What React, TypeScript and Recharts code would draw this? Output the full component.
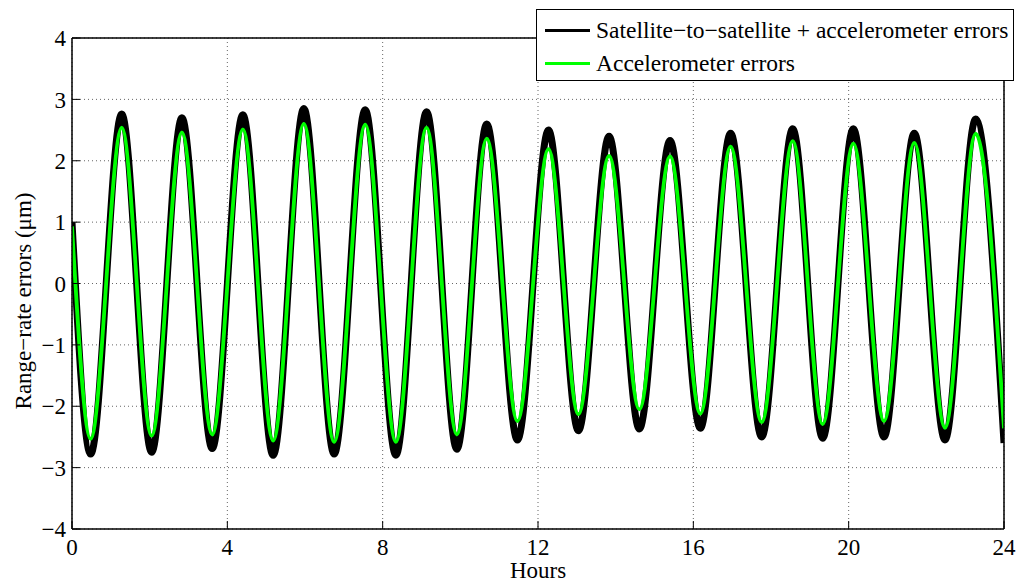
import React from 'react';
import { LineChart, Line, XAxis, YAxis, CartesianGrid, Legend } from 'recharts';

// extrema of the orbital signal (hours)
const hours = [
  0, 0.48, 1.28, 2.05, 2.83, 3.61, 4.4, 5.18, 5.97, 6.75, 7.55, 8.34, 9.13, 9.91, 10.68, 11.47,
  12.27, 13.04, 13.83, 14.61, 15.4, 16.18, 16.96, 17.76, 18.56, 19.33, 20.12, 20.91, 21.69, 22.48, 23.27, 24,
];
// accelerometer errors (green)
const accelErrors = [
  0.93, -2.53, 2.54, -2.48, 2.46, -2.46, 2.51, -2.56, 2.6, -2.58, 2.59, -2.58, 2.54, -2.46, 2.36, -2.24,
  2.19, -2.13, 2.08, -2.05, 2.07, -2.12, 2.23, -2.26, 2.32, -2.29, 2.28, -2.24, 2.29, -2.35, 2.44, -2.36,
];
// satellite-to-satellite + accelerometer errors (black, centre of the noisy band)
const sstErrors = [
  1.0, -2.78, 2.76, -2.75, 2.7, -2.69, 2.75, -2.8, 2.85, -2.78, 2.83, -2.8, 2.8, -2.7, 2.6, -2.55,
  2.5, -2.4, 2.4, -2.37, 2.33, -2.36, 2.45, -2.5, 2.52, -2.52, 2.52, -2.5, 2.45, -2.55, 2.68, -2.6,
];

const xTicks = [0, 4, 8, 12, 16, 20, 24];
const yTicks = [-4, -3, -2, -1, 0, 1, 2, 3, 4];

const data = hours.map((h, i) => ({ h, acc: accelErrors[i], sst: sstErrors[i] }));

const FONT = "'Liberation Serif', 'Times New Roman', serif";
const FS = 23;
const fmt = (v: number) => (v < 0 ? `\u2212${Math.abs(v)}` : `${v}`);

const LegendBox = () => (
  <div
    style={{
      border: '1.5px solid #000',
      background: '#fff',
      fontFamily: FONT,
      fontSize: 23.5,
      color: '#000',
      padding: '4px 5px 0px 8px',
      lineHeight: '33px',
      whiteSpace: 'nowrap',
    }}
  >
    <div style={{ display: 'flex', alignItems: 'center' }}>
      <span style={{ display: 'inline-block', width: 45, height: 3, background: '#000', marginRight: 6 }} />
      Satellite{'\u2212'}to{'\u2212'}satellite + accelerometer errors
    </div>
    <div style={{ display: 'flex', alignItems: 'center' }}>
      <span style={{ display: 'inline-block', width: 45, height: 3, background: '#00ff00', marginRight: 6 }} />
      Accelerometer errors
    </div>
  </div>
);

export default function App() {
  return (
    <div style={{ position: 'absolute', left: 0, top: 0, width: 1020, height: 584, background: '#fff' }}>
      <LineChart width={1020} height={584} data={data} margin={{ top: 0, right: 0, bottom: 0, left: 0 }}>
        <CartesianGrid
          stroke="#666"
          strokeDasharray="1 3"
          strokeWidth={1}
          verticalValues={xTicks}
          horizontalValues={yTicks}
        />
        <XAxis
          dataKey="h"
          type="number"
          domain={[0, 24]}
          ticks={xTicks}
          allowDataOverflow
          height={55}
          tickSize={-8}
          tickMargin={18}
          axisLine={{ stroke: '#000', strokeWidth: 1.5 }}
          tickLine={{ stroke: '#000' }}
          tick={{ fill: '#000', fontSize: FS, fontFamily: FONT }}
          label={{
            content: ({ viewBox }: any) => (
              <text
                x={viewBox.x + viewBox.width / 2}
                y={578}
                textAnchor="middle"
                fontFamily={FONT}
                fontSize={FS}
                fill="#000"
              >
                Hours
              </text>
            ),
          }}
        />
        <XAxis
          xAxisId="top"
          orientation="top"
          dataKey="h"
          type="number"
          domain={[0, 24]}
          ticks={xTicks}
          allowDataOverflow
          height={38}
          tickSize={-8}
          tick={false}
          axisLine={{ stroke: '#000', strokeWidth: 1.5 }}
          tickLine={{ stroke: '#000' }}
        />
        <YAxis
          type="number"
          domain={[-4, 4]}
          ticks={yTicks}
          allowDataOverflow
          width={72}
          tickSize={-8}
          tickMargin={14}
          tickFormatter={fmt}
          axisLine={{ stroke: '#000', strokeWidth: 1.5 }}
          tickLine={{ stroke: '#000' }}
          tick={{ fill: '#000', fontSize: FS, fontFamily: FONT }}
          label={{
            content: () => (
              <text
                x={0}
                y={0}
                transform="translate(31, 301) rotate(-90)"
                textAnchor="middle"
                fontFamily={FONT}
                fontSize={FS}
                fill="#000"
              >
                Range{'\u2212'}rate errors (μm)
              </text>
            ),
          }}
        />
        <YAxis
          yAxisId="right"
          orientation="right"
          type="number"
          domain={[-4, 4]}
          ticks={yTicks}
          allowDataOverflow
          width={16}
          tickSize={-8}
          tick={false}
          axisLine={{ stroke: '#000', strokeWidth: 1.5 }}
          tickLine={{ stroke: '#000' }}
        />
        <Legend
          layout="horizontal"
          verticalAlign="middle"
          align="center"
          content={() => <LegendBox />}
          wrapperStyle={{ top: 9, left: 536, width: 'auto', height: 'auto' }}
        />
        <Line
          type="monotone"
          dataKey="sst"
          name="Satellite−to−satellite + accelerometer errors"
          stroke="#000"
          strokeWidth={7}
          dot={false}
          isAnimationActive={false}
        />
        <Line
          type="monotone"
          dataKey="acc"
          name="Accelerometer errors"
          stroke="#00ff00"
          strokeWidth={3.8}
          dot={false}
          isAnimationActive={false}
        />
      </LineChart>
    </div>
  );
}
